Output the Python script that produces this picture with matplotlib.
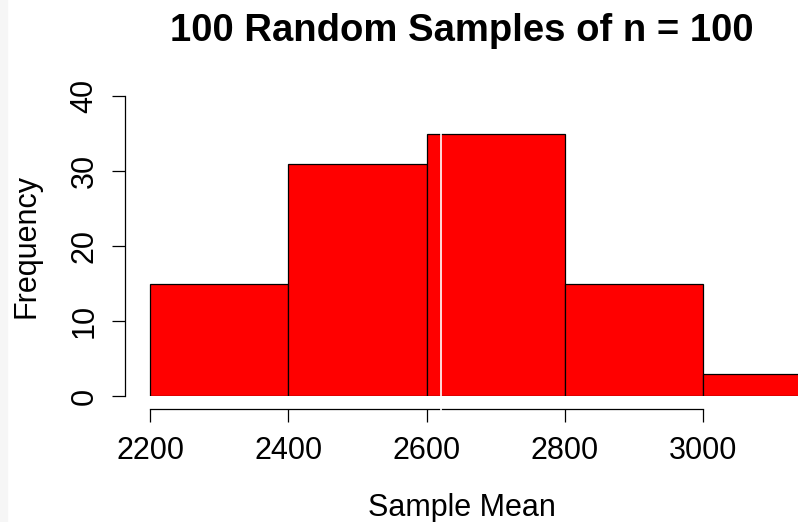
import numpy as np
import matplotlib.pyplot as plt
from matplotlib.patches import Rectangle

plt.rcParams['font.family'] = ['Liberation Sans', 'DejaVu Sans']

# histogram of sample means
bin_edges = [2200, 2400, 2600, 2800, 3000, 3200]
counts = [15, 31, 35, 15, 3]
sample_mean = 2621

W, H = 798, 522
fig = plt.figure(figsize=(W / 100, H / 100), dpi=100)
fig.patch.set_facecolor('white')
# thin grey strip down the left edge
fig.add_artist(Rectangle((0, 0), 7 / W, 1, transform=fig.transFigure,
                         color='#f6f6f6', zorder=0))

# axes: left spine at x=125px, y=0 at 396px, y=40 at 96px
px_per_unit = 138.25 / 200
ax = fig.add_axes([125 / W, (H - 396) / H, (W - 125) / W, 300 / H])
ax.set_xlim(2200 - 25 / px_per_unit, 2200 + (W - 150) / px_per_unit)
ax.set_ylim(0, 40)

widths = np.diff(bin_edges)
ax.bar(bin_edges[:-1], counts, width=widths, align='edge',
       color='#ff0000', edgecolor='black', linewidth=0.9, zorder=2)

# mean line in white, running just past the x axis line
ax.axvline(sample_mean, ymin=-0.05, ymax=1.0, color='white', lw=1.2,
           clip_on=False, zorder=6)

for s in ['top', 'right']:
    ax.spines[s].set_visible(False)
ax.spines['bottom'].set_position(('outward', 13 * 0.72))
ax.spines['left'].set_position(('outward', 0))
ax.spines['bottom'].set_bounds(2200, 3000)
ax.spines['left'].set_bounds(0, 40)
for s in ['bottom', 'left']:
    ax.spines[s].set_linewidth(0.9)

ax.set_xticks([2200, 2400, 2600, 2800, 3000])
ax.set_yticks([0, 10, 20, 30, 40])
ax.tick_params(axis='both', length=13 * 0.72, width=0.9, labelsize=22)
ax.tick_params(axis='x', pad=10)
ax.tick_params(axis='y', pad=9)
for lab in ax.get_yticklabels():
    lab.set_rotation(90)
    lab.set_va('center')

fig.text(462 / W, 1 - 41 / H, '100 Random Samples of n = 100',
         ha='center', va='baseline', fontsize=27.5, fontweight='bold')
fig.text(462 / W, 1 - 516 / H, 'Sample Mean', ha='center', va='baseline',
         fontsize=22)
fig.text(34 / W, 1 - 246 / H, 'Frequency', ha='center', va='baseline',
         fontsize=22, rotation=90, rotation_mode='anchor')

fig.savefig('out.png', dpi=100)
